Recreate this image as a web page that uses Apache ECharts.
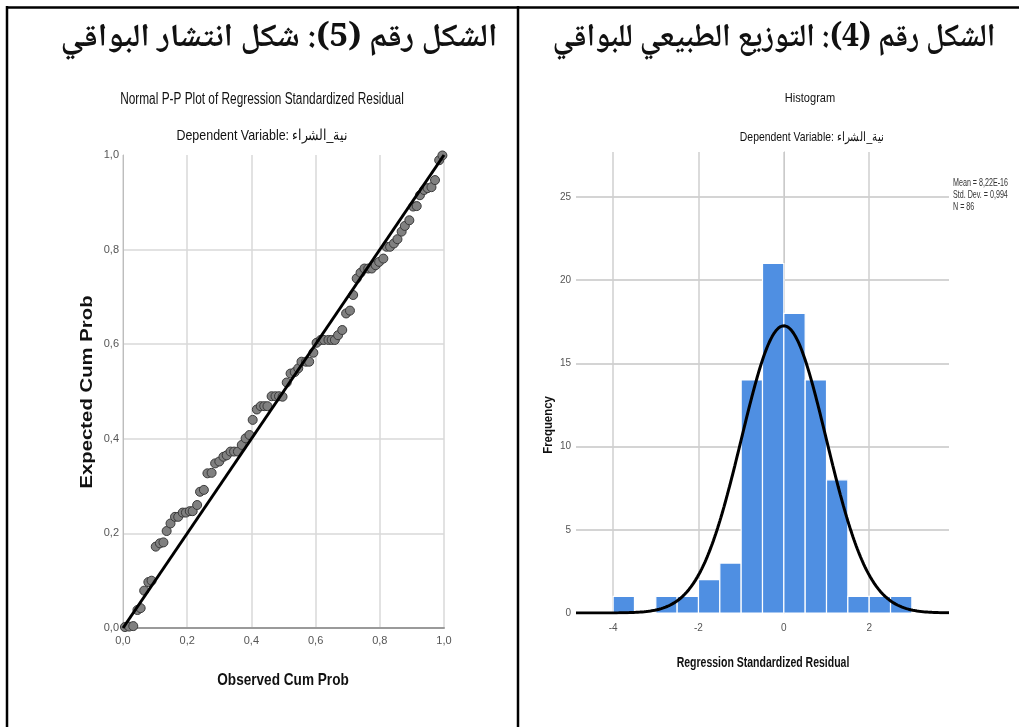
<!DOCTYPE html>
<html><head><meta charset="utf-8">
<script src="https://cdn.jsdelivr.net/npm/echarts@6/dist/echarts.min.js"></script>
<style>html,body{margin:0;padding:0;background:#fff}#c{width:1019px;height:727px}</style>
</head><body><div id="c"></div>
<script>
// ---------- data ----------
const ppObserved = [0.006,0.019,0.032,0.045,0.055,0.066,0.079,0.089,0.102,0.115,0.126,0.136,0.148,0.162,0.172,0.186,0.196,0.208,0.217,0.231,0.240,0.252,0.263,0.276,0.287,0.300,0.313,0.323,0.335,0.346,0.358,0.370,0.382,0.394,0.404,0.417,0.429,0.440,0.450,0.463,0.475,0.486,0.497,0.510,0.522,0.535,0.546,0.556,0.570,0.580,0.593,0.603,0.616,0.626,0.640,0.650,0.660,0.670,0.683,0.695,0.707,0.717,0.728,0.740,0.752,0.764,0.775,0.787,0.798,0.811,0.821,0.832,0.844,0.855,0.868,0.878,0.892,0.904,0.915,0.925,0.938,0.949,0.961,0.972,0.985,0.995];
const ppExpected = [0.002,0.003,0.004,0.038,0.042,0.079,0.097,0.100,0.172,0.179,0.181,0.205,0.221,0.235,0.235,0.244,0.244,0.247,0.247,0.260,0.288,0.292,0.327,0.328,0.348,0.352,0.362,0.365,0.373,0.373,0.373,0.387,0.401,0.408,0.440,0.462,0.469,0.469,0.469,0.490,0.490,0.490,0.489,0.519,0.538,0.541,0.549,0.563,0.563,0.563,0.582,0.603,0.609,0.609,0.609,0.609,0.609,0.619,0.630,0.665,0.671,0.704,0.739,0.751,0.760,0.760,0.760,0.767,0.774,0.781,0.806,0.806,0.813,0.822,0.838,0.850,0.862,0.891,0.892,0.915,0.926,0.930,0.932,0.947,0.989,0.999];
const ppRefLine = [[0,0],[1,1]];

const binStarts = [-4,-3.5,-3,-2.5,-2,-1.5,-1,-0.5,0,0.5,1,1.5,2,2.5];
const binCounts = [1,0,1,1,2,3,14,21,18,14,8,1,1,1];
const binWidth = 0.5;
const histMean = 8.22e-16, histSD = 0.994, histN = 86;
const histXTicks = [-4,-2,0,2];
const statsLines = ['Mean = 8,22E-16','Std. Dev. = 0,994','N = 86'];

const headingLeft = 'الشكل رقم (5): شكل انتشار البواقي';
const headingRight = 'الشكل رقم (4): التوزيع الطبيعي للبواقي';
const depVar = 'Dependent Variable: نية_الشراء';

// ---------- derived ----------
const ppPoints = ppObserved.map((x,i)=>[x, ppExpected[i]]);
const histBars = binStarts.map((s,i)=>[s, s+binWidth, binCounts[i]]);
const xMinH = -4.87, xMaxH = 3.87;
const curve = [];
for (let i=0;i<=350;i++){
  const x = xMinH + (xMaxH-xMinH)*i/350;
  const z = (x-histMean)/histSD;
  curve.push([x, histN*binWidth*Math.exp(-0.5*z*z)/(histSD*Math.sqrt(2*Math.PI))]);
}

const SANS = '"Liberation Sans",Arial,sans-serif';
const ARAB = '"Noto Naskh Arabic","Noto Sans Arabic","DejaVu Sans",sans-serif';
const comma = v => v.toFixed(1).replace('.', ',');

function txt(x, y, text, font, opts){
  return Object.assign({type:'text', x:x, y:y, silent:true,
    style:{text:text, font:font, fill:'#111', align:'center', verticalAlign:'middle'}}, opts||{});
}

const chart = echarts.init(document.getElementById('c'), null, {renderer:'canvas'});
chart.setOption({
  animation:false,
  backgroundColor:'#fff',
  grid:[
    {left:123, top:155, width:321, height:473},
    {left:576, top:152, width:373, height:461}
  ],
  xAxis:[
    {gridIndex:0, type:'value', min:0, max:1, interval:0.2,
     axisLine:{show:true, lineStyle:{color:'#9a9a9a', width:2}},
     axisTick:{show:false},
     axisLabel:{formatter:comma, fontFamily:SANS, fontSize:11, color:'#555', margin:7},
     splitLine:{show:true, lineStyle:{color:'#d9d9d9', width:1.5}}},
    {gridIndex:1, type:'value', min:xMinH, max:xMaxH,
     axisLine:{show:false},
     axisTick:{show:false},
     axisLabel:{customValues:histXTicks, fontFamily:SANS, fontSize:10, color:'#555', margin:10,
       formatter:v=>String(v)},
     splitLine:{show:false}}
  ],
  yAxis:[
    {gridIndex:0, type:'value', min:0, max:1, interval:0.2,
     axisLine:{show:true, lineStyle:{color:'#bdbdbd', width:1}},
     axisTick:{show:false},
     axisLabel:{formatter:comma, fontFamily:SANS, fontSize:11, color:'#555', margin:4},
     splitLine:{show:true, showMaxLine:false, lineStyle:{color:'#d9d9d9', width:1.5}}},
    {gridIndex:1, type:'value', min:0, max:27.7, interval:5,
     axisLine:{show:true, lineStyle:{color:'#bdbdbd', width:1}},
     axisTick:{show:false},
     axisLabel:{showMaxLabel:false, fontFamily:SANS, fontSize:10, color:'#555', margin:5},
     splitLine:{show:true, showMaxLine:false, showMinLine:false, lineStyle:{color:'#c6c6c6', width:1.5}}}
  ],
  series:[
    {type:'scatter', xAxisIndex:0, yAxisIndex:0, data:ppPoints, symbolSize:9, z:3,
     itemStyle:{color:'#808080', borderColor:'#3a3a3a', borderWidth:1, opacity:1}},
    {type:'line', xAxisIndex:0, yAxisIndex:0, data:ppRefLine, symbol:'none', z:4,
     lineStyle:{color:'#000', width:3}},
    {type:'custom', xAxisIndex:1, yAxisIndex:1, data:histBars, z:3,
     renderItem:(params, api)=>{
       const p0 = api.coord([api.value(0), api.value(2)]);
       const p1 = api.coord([api.value(1), 0]);
       return {type:'rect', shape:{x:p0[0], y:p0[1], width:p1[0]-p0[0], height:p1[1]-p0[1]},
         style:{fill:'#4f8fe2', stroke:'#ffffff', lineWidth:1.2}};
     },
     encode:{x:[0,1], y:2},
     markLine:{silent:true, symbol:'none', label:{show:false}, z:1,
       lineStyle:{color:'#cfcfcf', width:1.5, type:'solid'},
       data:histXTicks.map(v=>({xAxis:v}))}},
    {type:'line', xAxisIndex:1, yAxisIndex:1, data:curve, symbol:'none', z:5,
     lineStyle:{color:'#000', width:3}}
  ],
  graphic:[
    {type:'line', shape:{x1:6, y1:7.5, x2:1019, y2:7.5}, style:{stroke:'#000', lineWidth:2.5}},
    {type:'line', shape:{x1:7, y1:6, x2:7, y2:727}, style:{stroke:'#000', lineWidth:2.5}},
    {type:'line', shape:{x1:518, y1:6, x2:518, y2:727}, style:{stroke:'#000', lineWidth:2.5}},
    txt(279, 42, headingLeft, 'bold 32px '+ARAB, {scaleX:1.04}),
    txt(774, 42, headingRight, 'bold 32px '+ARAB, {scaleX:0.95}),
    txt(262, 100, 'Normal P-P Plot of Regression Standardized Residual', '16px '+SANS, {scaleX:0.74}),
    txt(262, 136, depVar, '15px '+SANS, {scaleX:0.83}),
    txt(810, 98, 'Histogram', '13px '+SANS, {scaleX:0.85}),
    txt(812, 137, depVar, '13px '+SANS, {scaleX:0.8}),
    txt(283, 680, 'Observed Cum Prob', 'bold 17px '+SANS, {scaleX:0.8}),
    txt(88, 392, 'Expected Cum Prob', 'bold 16px '+SANS, {rotation:Math.PI/2, scaleX:1.27}),
    txt(763, 663, 'Regression Standardized Residual', 'bold 15px '+SANS, {scaleX:0.7}),
    txt(549, 425, 'Frequency', 'bold 12px '+SANS, {rotation:Math.PI/2, scaleX:0.95}),
    {type:'text', x:953, y:177, silent:true, scaleX:0.68,
     style:{text:statsLines.join('\n'), font:'10.5px '+SANS, fill:'#333', align:'left', verticalAlign:'top', lineHeight:12}}
  ]
});
</script></body></html>
